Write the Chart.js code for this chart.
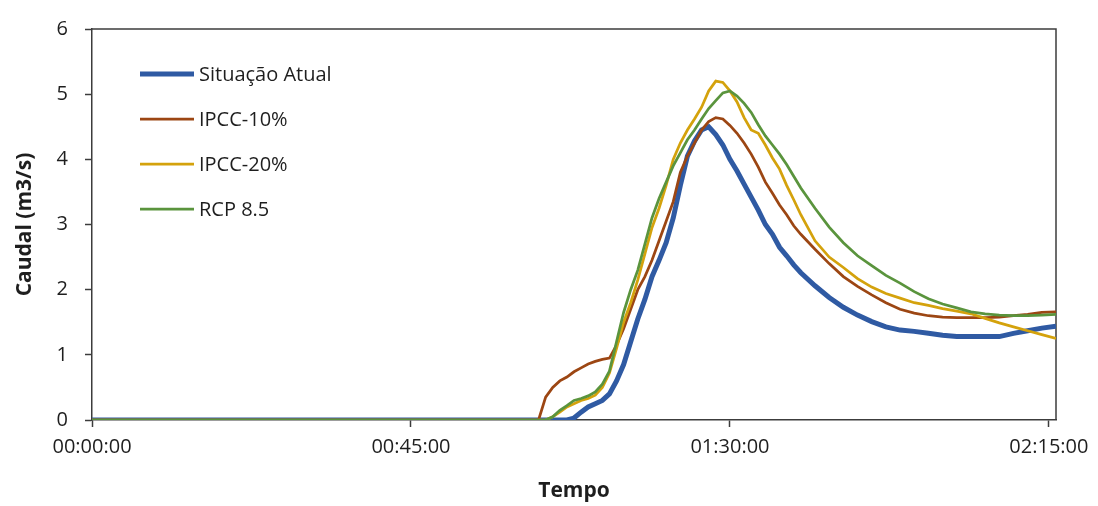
<!DOCTYPE html>
<html>
<head>
<meta charset="utf-8">
<script src="https://cdn.jsdelivr.net/npm/chart.js@4/dist/chart.umd.min.js"></script>
<style>
  html, body { margin: 0; padding: 0; background: #fff; }
  #wrap { width: 1098px; height: 506px; }
</style>
</head>
<body>
<div id="wrap"><canvas id="caudalChart" width="1098" height="506"></canvas></div>
<script>
// time in minutes since start
const minutes = [0,
    62, 63, 64, 65, 66, 67, 68, 69, 70, 71, 72, 73, 74, 75, 76, 77, 78, 79, 80,
    81, 82, 83, 84, 85, 86, 87, 88, 89, 90, 91, 92, 93, 94, 95, 96, 97, 98, 99, 100,
    102, 104, 106, 108, 110, 112, 114, 116, 118, 120, 122, 124, 126, 128, 130, 132, 134, 136];

const situacaoAtual = [0,
    0, 0, 0, 0, 0, 0, 0.03, 0.12, 0.2, 0.25, 0.3, 0.4, 0.6, 0.85, 1.2, 1.55, 1.85, 2.2, 2.45,
    2.72, 3.1, 3.6, 4.05, 4.28, 4.45, 4.5, 4.38, 4.22, 4.0, 3.82, 3.62, 3.42, 3.22, 3.0, 2.85, 2.65, 2.52, 2.38, 2.26,
    2.06, 1.88, 1.73, 1.61, 1.51, 1.43, 1.38, 1.36, 1.33, 1.3, 1.28, 1.28, 1.28, 1.28, 1.33, 1.37, 1.41, 1.44];

const ipcc10 = [0,
    0, 0, 0.35, 0.5, 0.6, 0.66, 0.74, 0.8, 0.86, 0.9, 0.93, 0.95, 1.15, 1.4, 1.7, 2.0, 2.2, 2.45, 2.75,
    3.05, 3.35, 3.8, 4.05, 4.25, 4.45, 4.58, 4.64, 4.62, 4.52, 4.4, 4.25, 4.08, 3.88, 3.65, 3.48, 3.3, 3.15, 2.98, 2.85,
    2.62, 2.4, 2.2, 2.05, 1.92, 1.8, 1.7, 1.64, 1.6, 1.58, 1.57, 1.57, 1.57, 1.58, 1.6, 1.62, 1.65, 1.66];

const ipcc20 = [0,
    0, 0, 0, 0.05, 0.12, 0.2, 0.25, 0.3, 0.33, 0.38, 0.5, 0.72, 1.1, 1.5, 1.8, 2.15, 2.55, 2.95, 3.25,
    3.6, 4.0, 4.25, 4.45, 4.62, 4.8, 5.05, 5.2, 5.18, 5.05, 4.88, 4.64, 4.45, 4.4, 4.22, 4.02, 3.85, 3.6, 3.38, 3.15,
    2.75, 2.5, 2.34, 2.17, 2.04, 1.94, 1.87, 1.8, 1.76, 1.71, 1.67, 1.63, 1.56, 1.49, 1.43, 1.37, 1.31, 1.25];

const rcp85 = [0,
    0, 0, 0, 0.05, 0.15, 0.22, 0.3, 0.33, 0.37, 0.43, 0.55, 0.75, 1.2, 1.65, 2.0, 2.3, 2.7, 3.1, 3.4,
    3.65, 3.9, 4.1, 4.3, 4.45, 4.62, 4.78, 4.9, 5.02, 5.05, 4.97, 4.86, 4.72, 4.53, 4.36, 4.22, 4.08, 3.92, 3.74, 3.56,
    3.25, 2.96, 2.72, 2.52, 2.37, 2.22, 2.1, 1.97, 1.86, 1.78, 1.72, 1.66, 1.63, 1.61, 1.6, 1.6, 1.61, 1.62];

const xTickValues = [0, 45, 90, 135];
const xTickLabels = ['00:00:00', '00:45:00', '01:30:00', '02:15:00'];

const FONT = "'Open Sans', 'Liberation Sans', sans-serif";
const AXIS_COLOR = '#3c3c3c';
const TEXT_COLOR = '#1e1e1e';

// legend inside the plot, top-left
const insideLegend = {
    id: 'insideLegend',
    afterDatasetsDraw(chart) {
        const ctx = chart.ctx;
        const x0 = 140, x1 = 194, y0 = 74, step = 45;
        ctx.save();
        ctx.font = '20px ' + FONT;
        ctx.textBaseline = 'middle';
        ctx.fillStyle = TEXT_COLOR;
        chart.data.datasets.forEach((ds, i) => {
            const y = y0 + i * step;
            ctx.beginPath();
            ctx.strokeStyle = ds.borderColor;
            ctx.lineWidth = ds.borderWidth;
            ctx.moveTo(x0, y);
            ctx.lineTo(x1, y);
            ctx.stroke();
            ctx.fillText(ds.label, x1 + 5, y + 1);
        });
        ctx.restore();
    }
};

// top and right edges of the plot box
const plotFrame = {
    id: 'plotFrame',
    beforeDatasetsDraw(chart) {
        const {ctx, chartArea: a} = chart;
        ctx.save();
        ctx.strokeStyle = AXIS_COLOR;
        ctx.lineWidth = 1.5;
        ctx.beginPath();
        ctx.moveTo(a.left, a.top);
        ctx.lineTo(a.right, a.top);
        ctx.lineTo(a.right, a.bottom);
        ctx.stroke();
        ctx.restore();
    }
};

const series = [
    { label: 'Situação Atual', data: situacaoAtual, color: '#2f5aa3', width: 5, order: 4 },
    { label: 'IPCC-10%', data: ipcc10, color: '#9c4613', width: 2.75, order: 3 },
    { label: 'IPCC-20%', data: ipcc20, color: '#d4a20c', width: 2.75, order: 2 },
    { label: 'RCP 8.5', data: rcp85, color: '#5a943d', width: 2.75, order: 1 }
];

new Chart(document.getElementById('caudalChart'), {
    type: 'line',
    data: {
        labels: minutes,
        datasets: series.map(s => ({
            label: s.label,
            data: s.data,
            borderColor: s.color,
            backgroundColor: s.color,
            borderWidth: s.width,
            order: s.order,
            pointRadius: 0,
            tension: 0,
            fill: false
        }))
    },
    options: {
        responsive: false,
        animation: false,
        devicePixelRatio: 1,
        layout: { padding: { top: 25, right: 42, left: 0, bottom: 0 } },
        plugins: {
            legend: { display: false },
            tooltip: { enabled: false }
        },
        scales: {
            x: {
                type: 'linear',
                min: 0,
                max: 136,
                afterBuildTicks: scale => {
                    scale.ticks = xTickValues.map(v => ({ value: v }));
                },
                afterFit: scale => { scale.height = 86; },
                ticks: {
                    color: TEXT_COLOR,
                    font: { family: FONT, size: 20 },
                    padding: 8,
                    maxRotation: 0,
                    callback: (value, index) => xTickLabels[index]
                },
                grid: {
                    drawOnChartArea: false,
                    drawTicks: true,
                    tickLength: 7,
                    tickWidth: 1.5,
                    tickColor: AXIS_COLOR
                },
                border: { display: true, color: AXIS_COLOR, width: 1.5 },
                title: {
                    display: true,
                    text: 'Tempo',
                    color: TEXT_COLOR,
                    font: { family: FONT, size: 21, weight: 'bold' },
                    padding: { top: 0, bottom: 2 }
                }
            },
            y: {
                min: 0,
                max: 6,
                afterFit: scale => { scale.width = 92; },
                ticks: {
                    stepSize: 1,
                    color: TEXT_COLOR,
                    font: { family: FONT, size: 20 },
                    padding: 17
                },
                grid: {
                    drawOnChartArea: false,
                    drawTicks: true,
                    tickLength: 7,
                    tickWidth: 1.5,
                    tickColor: AXIS_COLOR
                },
                border: { display: true, color: AXIS_COLOR, width: 1.5 },
                title: {
                    display: true,
                    text: 'Caudal (m3/s)',
                    color: TEXT_COLOR,
                    font: { family: FONT, size: 21, weight: 'bold' },
                    padding: { top: 12, bottom: 0 }
                }
            }
        }
    },
    plugins: [plotFrame, insideLegend]
});
</script>
</body>
</html>
